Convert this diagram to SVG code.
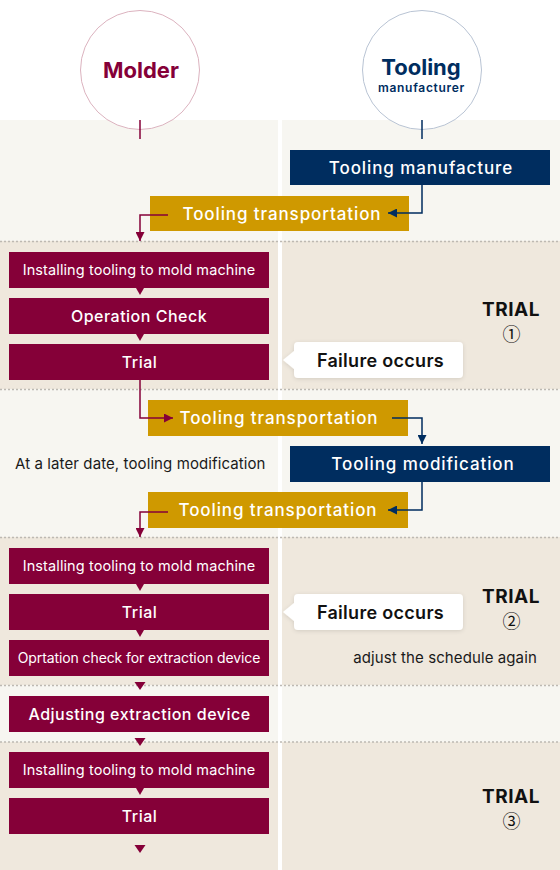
<svg xmlns="http://www.w3.org/2000/svg" width="560" height="870" viewBox="0 0 560 870">
<style>
text{font-family:Inter,"Noto Sans","Liberation Sans",sans-serif}
.light{fill:#f7f6f1}
.beige{fill:#efe8dd}
.dot{stroke:#bdb9b2;stroke-width:1.5;stroke-dasharray:2 2;fill:none}
.mb{fill:#850038}
.nb{fill:#002d5f}
.gb{fill:#cf9900}
.bt{fill:#ffffff;font-weight:500;text-anchor:middle}
.s16{font-size:16px;letter-spacing:0.5px}
.s17{font-size:17px;letter-spacing:0.9px}
.s14{font-size:14.5px;font-weight:400;letter-spacing:0.1px}
.s14n{font-size:14px;font-weight:400;letter-spacing:-0.1px}
.cm{stroke:#850038;stroke-width:1.5;fill:none}
.cn{stroke:#002d5f;stroke-width:1.5;fill:none}
.tri{fill:#850038}
.call{fill:#ffffff}
.ct{font-size:18px;font-weight:600;fill:#111111;text-anchor:middle;letter-spacing:0.3px}
.trial{font-size:19px;font-weight:700;fill:#111111;text-anchor:middle;letter-spacing:0.5px}
.num{font-size:18px;fill:#111111;text-anchor:middle;font-family:"Noto Sans CJK JP","DejaVu Sans",sans-serif}
.note{font-size:15px;fill:#1a1a1a;letter-spacing:0.1px}
</style>
<defs>
<marker id="am" viewBox="0 0 10 10" refX="10" refY="5" markerWidth="9" markerHeight="9" markerUnits="userSpaceOnUse" orient="auto"><path d="M0,0 L10,5 L0,10 z" fill="#850038"/></marker>
<marker id="an" viewBox="0 0 10 10" refX="10" refY="5" markerWidth="9" markerHeight="9" markerUnits="userSpaceOnUse" orient="auto"><path d="M0,0 L10,5 L0,10 z" fill="#002d5f"/></marker>
<filter id="sh" x="-20%" y="-30%" width="140%" height="160%"><feDropShadow dx="0" dy="1" stdDeviation="2" flood-color="#000" flood-opacity="0.12"/></filter>
</defs>
<rect width="560" height="870" fill="#ffffff"/>
<g id="background">
<rect class="light" x="0" y="120" width="278" height="121"/><rect class="light" x="282" y="120" width="278" height="121"/>
<rect class="beige" x="0" y="241" width="278" height="148"/><rect class="beige" x="282" y="241" width="278" height="148"/>
<rect class="light" x="0" y="389" width="278" height="148"/><rect class="light" x="282" y="389" width="278" height="148"/>
<rect class="beige" x="0" y="537" width="278" height="148"/><rect class="beige" x="282" y="537" width="278" height="148"/>
<rect class="light" x="0" y="685" width="278" height="57"/><rect class="light" x="282" y="685" width="278" height="57"/>
<rect class="beige" x="0" y="742" width="278" height="128"/><rect class="beige" x="282" y="742" width="278" height="128"/>
<line class="dot" x1="0" y1="241.5" x2="560" y2="241.5"/>
<line class="dot" x1="0" y1="389.5" x2="560" y2="389.5"/>
<line class="dot" x1="0" y1="537.5" x2="560" y2="537.5"/>
<line class="dot" x1="0" y1="685.5" x2="560" y2="685.5"/>
<line class="dot" x1="0" y1="742" x2="560" y2="742"/>
</g>
<g id="molder">
<circle cx="140" cy="70" r="59.5" fill="#ffffff" stroke="#dcb3bf" stroke-width="1"/>
<text x="141" y="78" font-size="22" font-weight="700" fill="#850038" text-anchor="middle">Molder</text>
<line x1="140" y1="120" x2="140" y2="139" stroke="#850038" stroke-width="1.5"/>
</g>
<g id="tooling-manufacturer">
<circle cx="422" cy="70" r="59.5" fill="#ffffff" stroke="#b9c4d4" stroke-width="1"/>
<text x="421" y="75" font-size="22" font-weight="700" fill="#002d5f" text-anchor="middle">Tooling</text>
<text x="421.5" y="91.5" font-size="12" font-weight="600" fill="#002d5f" text-anchor="middle" letter-spacing="0.7">manufacturer</text>
<line x1="422" y1="120" x2="422" y2="139" stroke="#002d5f" stroke-width="1.5"/>
</g>
<g id="tooling-manufacture"><rect class="nb" x="290" y="150" width="260" height="35"/><text class="bt s17" x="421" y="173.5">Tooling manufacture</text></g>
<g id="transport-1"><rect class="gb" x="150" y="196" width="259" height="35"/><text class="bt s17" x="282" y="219.5">Tooling transportation</text></g>
<g id="install-1"><rect class="mb" x="9" y="252" width="260" height="36"/><text class="bt s14" x="139" y="275">Installing tooling to mold machine</text></g>
<g id="operation-check"><rect class="mb" x="9" y="298" width="260" height="36"/><text class="bt s16" x="139" y="321.5">Operation Check</text></g>
<g id="trial-1"><rect class="mb" x="9" y="344" width="260" height="36"/><text class="bt s16" x="139.5" y="367.5">Trial</text></g>
<g id="failure-1"><path class="call" filter="url(#sh)" d="M298,342 H459 Q463,342 463,346 V374 Q463,378 459,378 H298 Q294,378 294,374 V369 L283,360 L294,351 V346 Q294,342 298,342 Z"/><text class="ct" x="380.5" y="366.5">Failure occurs</text></g>
<g id="trial-label-1"><text class="trial" x="511" y="316">TRIAL</text><text class="num" x="511.5" y="340.5">①</text></g>
<g id="transport-2"><rect class="gb" x="148" y="400" width="260" height="36"/><text class="bt s17" x="279" y="424">Tooling transportation</text></g>
<g id="note-later"><text class="note" x="15" y="469">At a later date, tooling modification</text></g>
<g id="tooling-modification"><rect class="nb" x="290" y="446" width="260" height="36"/><text class="bt s17" x="423" y="470">Tooling modification</text></g>
<g id="transport-3"><rect class="gb" x="148" y="492" width="260" height="36"/><text class="bt s17" x="278" y="516">Tooling transportation</text></g>
<g id="install-2"><rect class="mb" x="9" y="548" width="260" height="36"/><text class="bt s14" x="139" y="571">Installing tooling to mold machine</text></g>
<g id="trial-2"><rect class="mb" x="9" y="594" width="260" height="36"/><text class="bt s16" x="139.5" y="617.5">Trial</text></g>
<g id="extraction-check"><rect class="mb" x="9" y="640" width="260" height="36"/><text class="bt s14n" x="139" y="663">Oprtation check for extraction device</text></g>
<g id="failure-2"><path class="call" filter="url(#sh)" d="M298,594 H459 Q463,594 463,598 V626 Q463,630 459,630 H298 Q294,630 294,626 V621 L283,612 L294,603 V598 Q294,594 298,594 Z"/><text class="ct" x="380.5" y="618.5">Failure occurs</text></g>
<g id="trial-label-2"><text class="trial" x="511" y="603">TRIAL</text><text class="num" x="511.5" y="627.5">②</text></g>
<g id="note-schedule"><text class="note" x="445" y="663" text-anchor="middle">adjust the schedule again</text></g>
<g id="adjust-extraction"><rect class="mb" x="9" y="696" width="260" height="36"/><text class="bt s16" x="139.5" y="719.5">Adjusting extraction device</text></g>
<g id="install-3"><rect class="mb" x="9" y="752" width="260" height="36"/><text class="bt s14" x="139" y="775">Installing tooling to mold machine</text></g>
<g id="trial-3"><rect class="mb" x="9" y="798" width="260" height="36"/><text class="bt s16" x="139.5" y="821.5">Trial</text></g>
<g id="trial-label-3"><text class="trial" x="511" y="803">TRIAL</text><text class="num" x="511.5" y="827.5">③</text></g>
<g id="connectors">
<path class="cn" d="M422,185 V213 H388" marker-end="url(#an)"/>
<path class="cm" d="M168,215 H140 V241" marker-end="url(#am)"/>
<path class="cm" d="M140,380 V418 H173" marker-end="url(#am)"/>
<path class="cn" d="M392,418 H422 V444" marker-end="url(#an)"/>
<path class="cn" d="M422,482 V510 H388" marker-end="url(#an)"/>
<path class="cm" d="M168,512 H140 V537" marker-end="url(#am)"/>
<polygon class="tri" points="136,288 144,288 140,295"/>
<polygon class="tri" points="136,334 144,334 140,341"/>
<polygon class="tri" points="136,584 144,584 140,591"/>
<polygon class="tri" points="136,630 144,630 140,637"/>
<polygon class="tri" points="134.5,682 145.5,682 140,690"/>
<polygon class="tri" points="134.5,738 145.5,738 140,746"/>
<polygon class="tri" points="136,788 144,788 140,795"/>
<polygon class="tri" points="134.5,845 145.5,845 140,853"/>
</g>
</svg>
